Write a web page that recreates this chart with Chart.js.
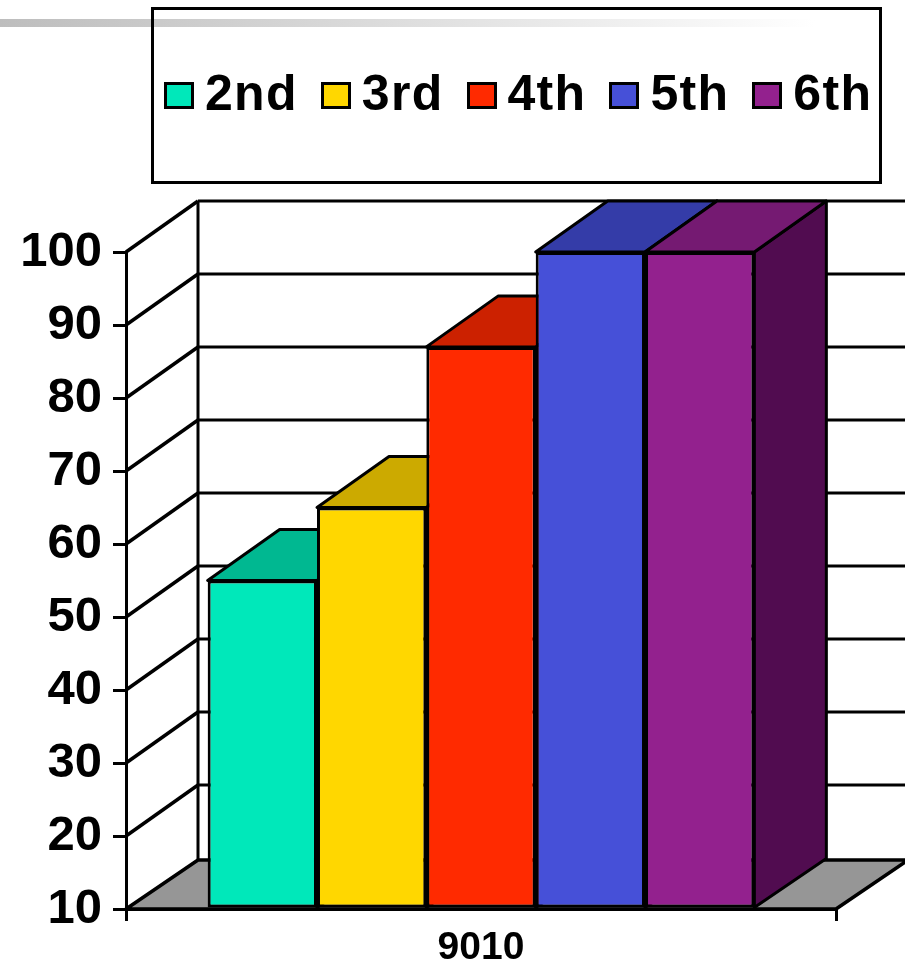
<!DOCTYPE html>
<html>
<head>
<meta charset="utf-8">
<title>9010</title>
<script src="https://cdn.jsdelivr.net/npm/chart.js@4/dist/chart.umd.min.js"></script>
<style>
  html, body { margin: 0; padding: 0; background: #fff; }
  body { position: relative; width: 905px; height: 964px; overflow: hidden; font-family: "Liberation Sans", Arial, sans-serif; }
  #bar { position: absolute; left: 0; top: 19px; width: 815px; height: 8px; background: linear-gradient(to right, #bdbdbd, #ffffff); }
  #chart { position: absolute; left: 0; top: 0; }
  #legend { position: absolute; left: 151px; top: 7px; width: 731px; height: 177px; box-sizing: border-box; border: 3px solid #000; display: flex; align-items: center; padding: 0 0 6px 10px; gap: 23px; }
  .item { display: flex; align-items: center; gap: 11px; font-weight: bold; font-size: 50px; letter-spacing: 1.3px; line-height: 1; color: #000; }
  .swatch { width: 24px; height: 21px; border: 3px solid #000; margin-top: 5px; }
</style>
</head>
<body>
<div id="bar"></div>
<canvas id="chart" width="905" height="964"></canvas>
<div id="legend"></div>
<script>
const categories = ["9010"];
const seriesNames = ["2nd", "3rd", "4th", "5th", "6th"];
const seriesValues = [55, 65, 87, 100, 100];
const frontColors = ["#00e8ba", "#ffd700", "#ff2a00", "#4650d8", "#93218e"];
const topColors = ["#00b891", "#ccaa00", "#cc2100", "#343ca8", "#751a72"];
const sideColors = ["#008a6d", "#998000", "#991900", "#232870", "#510c50"];

const axisMin = 10;
const depthX = 72;
const depthY = 51;
const floorDepthY = 49;

function polygon(ctx, points, fill) {
  ctx.beginPath();
  points.forEach((p, i) => (i ? ctx.lineTo(p[0], p[1]) : ctx.moveTo(p[0], p[1])));
  ctx.closePath();
  ctx.fillStyle = fill;
  ctx.fill();
  ctx.stroke();
}

const box3d = {
  id: "box3d",
  beforeDatasetsDraw(chart) {
    const { ctx, chartArea, scales } = chart;
    const left = chartArea.left;
    const right = chartArea.right;
    const floor = scales.y.getPixelForValue(scales.y.min);
    const ceil = scales.y.getPixelForValue(scales.y.max);

    ctx.save();
    ctx.strokeStyle = "#000";
    ctx.lineJoin = "round";

    // floor
    ctx.lineWidth = 3.5;
    polygon(ctx, [[left, floor], [right, floor], [right + depthX, floor - floorDepthY], [left + depthX, floor - floorDepthY]], "#969696");

    // side wall and back wall lines
    scales.y.ticks.forEach((tick) => {
      if (tick.value === scales.y.min) return;
      const y = scales.y.getPixelForValue(tick.value);
      ctx.lineWidth = 3.5;
      ctx.beginPath();
      ctx.moveTo(left, y);
      ctx.lineTo(left + depthX, y - depthY);
      ctx.stroke();
      ctx.lineWidth = 3;
      ctx.beginPath();
      ctx.moveTo(left + depthX, y - depthY);
      ctx.lineTo(chart.width, y - depthY);
      ctx.stroke();
    });
    ctx.lineWidth = 3;
    ctx.beginPath();
    ctx.moveTo(left + depthX, ceil - depthY);
    ctx.lineTo(left + depthX, floor - floorDepthY);
    ctx.stroke();

    // top and side faces of each column
    ctx.lineWidth = 3;
    chart.data.datasets.forEach((dataset, i) => {
      const bar = chart.getDatasetMeta(i).data[0];
      const x0 = bar.x - bar.width / 2;
      const x1 = bar.x + bar.width / 2;
      polygon(ctx, [[x1, bar.y], [x1 + depthX, bar.y - depthY], [x1 + depthX, bar.base - floorDepthY], [x1, bar.base]], sideColors[i]);
      polygon(ctx, [[x0, bar.y], [x1, bar.y], [x1 + depthX, bar.y - depthY], [x0 + depthX, bar.y - depthY]], topColors[i]);
    });
    ctx.restore();
  },
};

const legend = document.getElementById("legend");
seriesNames.forEach((name, i) => {
  const item = document.createElement("div");
  item.className = "item";
  item.innerHTML = `<span class="swatch" style="background:${frontColors[i]}"></span><span>${name}</span>`;
  legend.appendChild(item);
});

new Chart(document.getElementById("chart"), {
  type: "bar",
  data: {
    labels: categories,
    datasets: seriesNames.map((name, i) => ({
      label: name,
      data: [seriesValues[i]],
      base: axisMin,
      backgroundColor: frontColors[i],
      borderColor: "#000",
      borderWidth: 3,
      borderSkipped: false,
      categoryPercentage: 0.77,
      barPercentage: 1,
      clip: false,
    })),
  },
  options: {
    responsive: false,
    animation: false,
    layout: { padding: { top: 252, right: 69 } },
    plugins: { legend: { display: false }, tooltip: { enabled: false } },
    scales: {
      x: {
        afterFit: (scale) => { scale.height = 55; },
        grid: { drawOnChartArea: false, color: "#000", lineWidth: 3, tickLength: 12 },
        border: { color: "#000", width: 3, z: 2 },
        ticks: { color: "#000", padding: 4, font: { family: "'Liberation Sans'", weight: "bold", size: 39 } },
      },
      y: {
        min: axisMin,
        max: 100,
        afterFit: (scale) => { scale.width = 126; },
        grid: { drawOnChartArea: false, color: "#000", lineWidth: 3, tickLength: 13 },
        border: { color: "#000", width: 3, z: 2 },
        ticks: { stepSize: 10, color: "#000", padding: 11, font: { family: "'Liberation Sans'", weight: "bold", size: 49 } },
      },
    },
  },
  plugins: [box3d],
});
</script>
</body>
</html>
